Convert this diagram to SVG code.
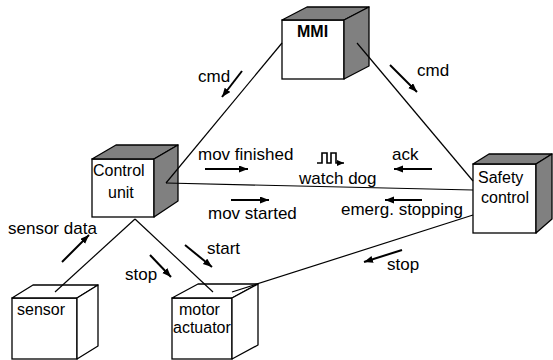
<svg xmlns="http://www.w3.org/2000/svg" width="553" height="360" viewBox="0 0 553 360">
<defs>
<style>
.f{fill:#fff;stroke:#000;stroke-width:1.3}
.g{fill:#808080;stroke:#000;stroke-width:1.3;stroke-linejoin:round}
.w{fill:#fff;stroke:#000;stroke-width:1.3;stroke-linejoin:round}
.n{font-family:"Liberation Sans",Arial,sans-serif;font-size:16px;fill:#000}
.e{font-family:"Liberation Sans",Arial,sans-serif;font-size:17px;fill:#000}
.c{stroke:#000;stroke-width:1.2;fill:none}
.a{stroke:#000;stroke-width:2;fill:none;marker-end:url(#ah)}
</style>
<marker id="ah" markerUnits="userSpaceOnUse" markerWidth="10" markerHeight="8" refX="9" refY="3.5" orient="auto">
<path d="M0,0 L9,3.5 L0,7 z" fill="#000"/>
</marker>
<marker id="ahs" markerUnits="userSpaceOnUse" markerWidth="8" markerHeight="7" refX="7" refY="3" orient="auto">
<path d="M0,0 L7,3 L0,6 z" fill="#000"/>
</marker>
</defs>
<g id="mmi">
<rect class="f" x="282" y="20" width="62" height="59"/>
<polygon class="g" points="282,20 307,7 369,7 344,20"/>
<polygon class="g" points="344,20 369,7 369,66 344,79"/>
<text class="n" x="297" y="37" font-weight="bold" font-size="15">MMI</text>
</g>
<g id="control-unit">
<rect class="f" x="92" y="159" width="62" height="58"/>
<polygon class="g" points="92,159 116,145 178,145 154,159"/>
<polygon class="g" points="154,159 178,145 178,201 154,217"/>
<text class="n" x="93" y="176">Control</text>
<text class="n" x="108" y="198">unit</text>
</g>
<g id="safety-control">
<rect class="f" x="473" y="164" width="63" height="69"/>
<polygon class="g" points="473,164 489,154 552,154 536,164"/>
<polygon class="g" points="536,164 552,154 552,219 536,233"/>
<text class="n" x="478" y="183">Safety</text>
<text class="n" x="481" y="203">control</text>
</g>
<g id="sensor">
<rect class="f" x="12" y="298" width="65" height="61"/>
<polygon class="w" points="12,298 33,285 98,285 77,298"/>
<polygon class="w" points="77,298 98,285 98,346 77,359"/>
<text class="n" x="17" y="315">sensor</text>
</g>
<g id="motor-actuator">
<rect class="f" x="172" y="298" width="60" height="61"/>
<polygon class="w" points="172,298 198,284 258,284 232,298"/>
<polygon class="w" points="232,298 258,284 258,345 232,359"/>
<text class="n" x="179" y="315">motor</text>
<text class="n" x="173" y="333">actuator</text>
</g>
<g id="connectors">
<line class="c" x1="282" y1="43" x2="166" y2="183"/>
<line class="c" x1="357" y1="43" x2="473" y2="181"/>
<line class="c" x1="166" y1="183" x2="473" y2="190"/>
<line class="c" x1="473" y1="215" x2="232" y2="292"/>
<line class="c" x1="135" y1="219" x2="55" y2="292"/>
<line class="c" x1="135" y1="219" x2="213" y2="292"/>
</g>
<g id="labels">
<line class="a" x1="242" y1="71" x2="222" y2="97"/>
<text class="e" x="198" y="82">cmd</text>
<line class="a" x1="390" y1="65" x2="417" y2="92"/>
<text class="e" x="417" y="76">cmd</text>
<line class="a" x1="205" y1="169" x2="248" y2="169"/>
<text class="e" x="198" y="160">mov finished</text>
<line class="a" x1="432" y1="169" x2="394" y2="169"/>
<text class="e" x="392" y="160">ack</text>
<polyline points="317,163 322,163 322,153 327,153 327,163 331,163 331,153 336,153 336,163 339,163 344,163" fill="none" stroke="#000" stroke-width="1.6" marker-end="url(#ahs)"/>
<text class="e" x="299" y="184">watch dog</text>
<line class="a" x1="231" y1="200" x2="269" y2="200"/>
<text class="e" x="208" y="219">mov started</text>
<line class="a" x1="422" y1="200" x2="385" y2="200"/>
<text class="e" x="341" y="215">emerg. stopping</text>
<line class="a" x1="62" y1="262" x2="89" y2="235"/>
<text class="e" x="8" y="234">sensor data</text>
<line class="a" x1="150" y1="255" x2="171" y2="277"/>
<text class="e" x="125" y="280">stop</text>
<line class="a" x1="185" y1="245" x2="212" y2="267"/>
<text class="e" x="207" y="254">start</text>
<line class="a" x1="402" y1="250" x2="364" y2="262"/>
<text class="e" x="387" y="270">stop</text>
</g>
</svg>
